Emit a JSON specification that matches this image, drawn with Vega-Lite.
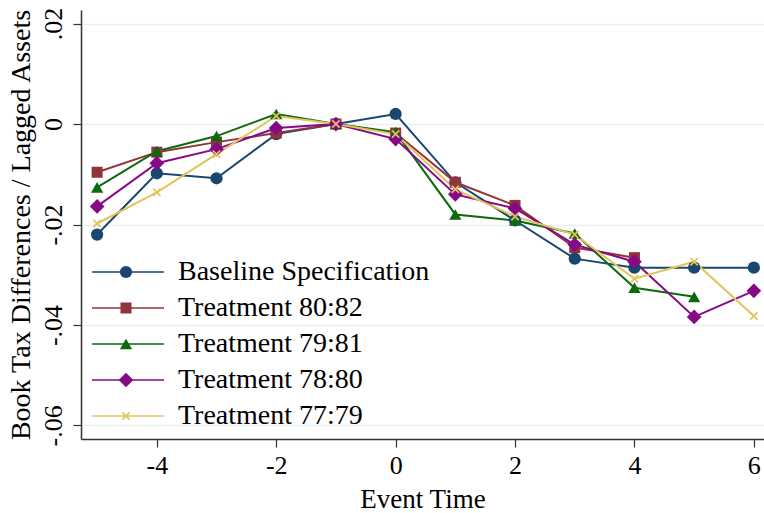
{
  "$schema": "https://vega.github.io/schema/vega-lite/v6.json",
  "autosize": {"type": "none"},
  "width": 683,
  "height": 429,
  "padding": {"left": 81, "top": 10, "right": 0, "bottom": 74},
  "background": "white",
  "config": {
    "view": {"stroke": null},
    "font": "Liberation Serif",
    "axis": {"labelFont": "Liberation Serif", "titleFont": "Liberation Serif", "labelColor": "black", "titleColor": "black", "titleFontWeight": "normal", "labelFontSize": 26, "titleFontSize": 27, "domainColor": "#333333", "tickColor": "#333333", "tickSize": 8, "domainWidth": 1.5, "tickWidth": 1.2},
    "legend": {"labelFont": "Liberation Serif", "labelFontSize": 28, "labelColor": "black", "labelLimit": 500}
  },
  "data": {
    "values": [
      {"t": -5, "series": "Baseline Specification", "v": -0.0220},
      {"t": -4, "series": "Baseline Specification", "v": -0.0098},
      {"t": -3, "series": "Baseline Specification", "v": -0.0108},
      {"t": -2, "series": "Baseline Specification", "v": -0.0020},
      {"t": -1, "series": "Baseline Specification", "v": 0.0},
      {"t": 0, "series": "Baseline Specification", "v": 0.0020},
      {"t": 1, "series": "Baseline Specification", "v": -0.0116},
      {"t": 2, "series": "Baseline Specification", "v": -0.0192},
      {"t": 3, "series": "Baseline Specification", "v": -0.0268},
      {"t": 4, "series": "Baseline Specification", "v": -0.0286},
      {"t": 5, "series": "Baseline Specification", "v": -0.0286},
      {"t": 6, "series": "Baseline Specification", "v": -0.0286},
      {"t": -5, "series": "Treatment 80:82", "v": -0.0096},
      {"t": -4, "series": "Treatment 80:82", "v": -0.0056},
      {"t": -3, "series": "Treatment 80:82", "v": -0.0036},
      {"t": -2, "series": "Treatment 80:82", "v": -0.0018},
      {"t": -1, "series": "Treatment 80:82", "v": 0.0},
      {"t": 0, "series": "Treatment 80:82", "v": -0.0018},
      {"t": 1, "series": "Treatment 80:82", "v": -0.0116},
      {"t": 2, "series": "Treatment 80:82", "v": -0.0162},
      {"t": 3, "series": "Treatment 80:82", "v": -0.0246},
      {"t": 4, "series": "Treatment 80:82", "v": -0.0266},
      {"t": -5, "series": "Treatment 79:81", "v": -0.0126},
      {"t": -4, "series": "Treatment 79:81", "v": -0.0054},
      {"t": -3, "series": "Treatment 79:81", "v": -0.0024},
      {"t": -2, "series": "Treatment 79:81", "v": 0.0020},
      {"t": -1, "series": "Treatment 79:81", "v": 0.0},
      {"t": 0, "series": "Treatment 79:81", "v": -0.0016},
      {"t": 1, "series": "Treatment 79:81", "v": -0.0180},
      {"t": 2, "series": "Treatment 79:81", "v": -0.0192},
      {"t": 3, "series": "Treatment 79:81", "v": -0.0218},
      {"t": 4, "series": "Treatment 79:81", "v": -0.0326},
      {"t": 5, "series": "Treatment 79:81", "v": -0.0344},
      {"t": -5, "series": "Treatment 78:80", "v": -0.0164},
      {"t": -4, "series": "Treatment 78:80", "v": -0.0078},
      {"t": -3, "series": "Treatment 78:80", "v": -0.0050},
      {"t": -2, "series": "Treatment 78:80", "v": -0.0008},
      {"t": -1, "series": "Treatment 78:80", "v": 0.0},
      {"t": 0, "series": "Treatment 78:80", "v": -0.0030},
      {"t": 1, "series": "Treatment 78:80", "v": -0.0140},
      {"t": 2, "series": "Treatment 78:80", "v": -0.0168},
      {"t": 3, "series": "Treatment 78:80", "v": -0.0240},
      {"t": 4, "series": "Treatment 78:80", "v": -0.0274},
      {"t": 5, "series": "Treatment 78:80", "v": -0.0384},
      {"t": 6, "series": "Treatment 78:80", "v": -0.0332},
      {"t": -5, "series": "Treatment 77:79", "v": -0.0198},
      {"t": -4, "series": "Treatment 77:79", "v": -0.0136},
      {"t": -3, "series": "Treatment 77:79", "v": -0.0060},
      {"t": -2, "series": "Treatment 77:79", "v": 0.0016},
      {"t": -1, "series": "Treatment 77:79", "v": 0.0},
      {"t": 0, "series": "Treatment 77:79", "v": -0.0020},
      {"t": 1, "series": "Treatment 77:79", "v": -0.0130},
      {"t": 2, "series": "Treatment 77:79", "v": -0.0184},
      {"t": 3, "series": "Treatment 77:79", "v": -0.0220},
      {"t": 4, "series": "Treatment 77:79", "v": -0.0308},
      {"t": 5, "series": "Treatment 77:79", "v": -0.0274},
      {"t": 6, "series": "Treatment 77:79", "v": -0.0382}
    ]
  },
  "encoding": {
    "x": {
      "field": "t", "type": "quantitative",
      "scale": {"domain": [-5.27, 6.17], "nice": false, "zero": false},
      "axis": {"values": [-4, -2, 0, 2, 4, 6], "grid": false, "title": "Event Time", "labelPadding": 5, "titlePadding": 8,
        "labelExpr": "datum.value < 0 ? '-' + abs(datum.value) : '' + datum.value"}
    },
    "y": {
      "field": "v", "type": "quantitative",
      "scale": {"domain": [-0.0627, 0.0227], "nice": false, "zero": false},
      "axis": {"values": [-0.06, -0.04, -0.02, 0, 0.02], "grid": true, "gridColor": "#e8f0f2", "gridWidth": 1.5,
        "title": "Book Tax Differences / Lagged Assets", "titleFontSize": 28, "titlePadding": 5,
        "labelAngle": -90, "labelAlign": "center", "labelBaseline": "bottom", "labelPadding": 7,
        "labelExpr": "datum.value == 0 ? '0' : (datum.value < 0 ? '-' : '') + '.' + format(round(abs(datum.value) * 100), '02d')"}
    }
  },
  "layer": [
    {
      "mark": {"type": "line", "strokeWidth": 2},
      "encoding": {
        "stroke": {
          "field": "series", "type": "nominal",
          "sort": ["Baseline Specification", "Treatment 80:82", "Treatment 79:81", "Treatment 78:80", "Treatment 77:79"],
          "scale": {
            "range": ["#1a476f", "#90353b", "#0b6a0b", "#850a85", "#e2c45c"]
          },
          "legend": {
            "title": null, "orient": "none", "legendX": 33, "legendY": 248, "padding": 0,
            "symbolType": "M-6,0H6", "symbolSize": 144, "symbolStrokeWidth": 2, "symbolOpacity": 0.75,
            "labelOffset": 36, "rowPadding": 8
          }
        }
      }
    },
    {
      "mark": {"type": "point", "filled": true, "opacity": 1, "size": 150},
      "encoding": {
        "color": {
          "field": "series", "type": "nominal",
          "scale": {
            "domain": ["Baseline Specification", "Treatment 80:82", "Treatment 79:81", "Treatment 78:80", "Treatment 77:79"],
            "range": ["#1a476f", "#90353b", "#0b6a0b", "#850a85", "#e2c45c"]
          },
          "legend": {
            "title": null, "orient": "bottom-left", "offset": 9, "padding": 0,
            "symbolSize": 150, "symbolOpacity": 1, "symbolOffset": 22, "rowPadding": 8,
            "labelExpr": "''"
          }
        },
        "shape": {
          "field": "series", "type": "nominal",
          "scale": {
            "domain": ["Baseline Specification", "Treatment 80:82", "Treatment 79:81", "Treatment 78:80", "Treatment 77:79"],
            "range": ["circle", "M-0.9,-0.9H0.9V0.9H-0.9Z", "triangle-up", "M0,-1.2L1.2,0L0,1.2L-1.2,0Z", "M-0.7,-0.5L-0.5,-0.7L0,-0.2L0.5,-0.7L0.7,-0.5L0.2,0L0.7,0.5L0.5,0.7L0,0.2L-0.5,0.7L-0.7,0.5L-0.2,0Z"]
          },
          "legend": null
        }
      }
    }
  ]
}
